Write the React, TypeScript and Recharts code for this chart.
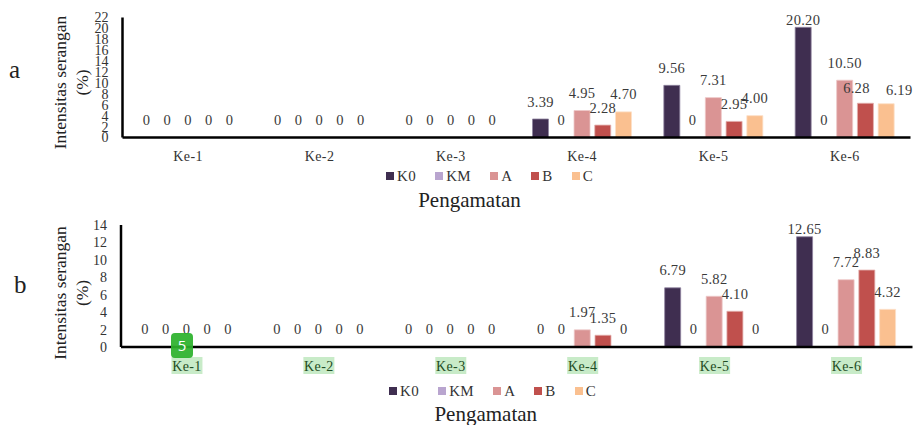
import { BarChart, Bar, XAxis, YAxis, LabelList, Legend } from "recharts";

const categories = ["Ke-1", "Ke-2", "Ke-3", "Ke-4", "Ke-5", "Ke-6"];
const seriesNames = ["K0", "KM", "A", "B", "C"];
const seriesColors = ["#3F2E50", "#B9A5CF", "#DA9494", "#C0504D", "#FAC090"];
const seriesEdges = ["#8F84A0", "#D5C9E2", "#EEC8C8", "#E3B0AE", "#FDE0C8"];

const ticksA = [0, 2, 4, 6, 8, 10, 12, 14, 16, 18, 20, 22];
const k0A = [0, 0, 0, 3.39, 9.56, 20.2];
const kmA = [0, 0, 0, 0, 0, 0];
const aA = [0, 0, 0, 4.95, 7.31, 10.5];
const bA = [0, 0, 0, 2.28, 2.95, 6.28];
const cA = [0, 0, 0, 4.7, 4.0, 6.19];

const ticksB = [0, 2, 4, 6, 8, 10, 12, 14];
const k0B = [0, 0, 0, 0, 6.79, 12.65];
const kmB = [0, 0, 0, 0, 0, 0];
const aB = [0, 0, 0, 1.97, 5.82, 7.72];
const bB = [0, 0, 0, 1.35, 4.1, 8.83];
const cB = [0, 0, 0, 0, 0, 4.32];

// hand-moved labels in the original, [dx, gap above bar]
const nudgesA: Record<string, [number, number]> = {
  "K0-5": [0, 7],
  "B-5": [-9, 15],
  "C-5": [13, 14],
};
const nudgesB: Record<string, [number, number]> = {
  "K0-5": [0, 8],
};

const FONT = "'Liberation Serif', 'Times New Roman', serif";

function buildRows(columns: number[][]) {
  return categories.map((name, i) => {
    const row: Record<string, string | number> = { name };
    seriesNames.forEach((s, j) => {
      row[s] = columns[j][i];
    });
    return row;
  });
}

function LegendRow() {
  return (
    <div style={{ display: "flex", gap: 19, fontFamily: FONT, fontSize: 15, color: "#333", lineHeight: "18px" }}>
      {seriesNames.map((s, i) => (
        <div key={s} style={{ display: "flex", alignItems: "center", gap: 3, letterSpacing: 0.4 }}>
          <span style={{ width: 8, height: 8, background: seriesColors[i], display: "inline-block" }} />
          {s}
        </div>
      ))}
    </div>
  );
}

function Panel(props: {
  columns: number[][];
  ticks: number[];
  top: number;
  left: number;
  right: number;
  plotTop: number;
  baseline: number;
  height: number;
  nudges: Record<string, [number, number]>;
  highlight: boolean;
  legendLeft: number;
  legendTop: number;
  titleDx: number;
  titleOffset: number;
  yTitleShift: number;
}) {
  const { columns, ticks, nudges, highlight, yTitleShift } = props;
  const rows = buildRows(columns);

  const yTitle = (p: any) => {
    const cy = p.viewBox.y + p.viewBox.height / 2 + yTitleShift;
    return (
      <g fontFamily={FONT} fontSize={17.5} fill="#222" textAnchor="middle">
        <text transform={`translate(60,${cy}) rotate(-90)`} dominantBaseline="central">
          Intensitas serangan
        </text>
        <text transform={`translate(82,${cy}) rotate(-90)`} dominantBaseline="central">
          (%)
        </text>
      </g>
    );
  };

  const tick = (p: any) => (
    <g>
      {highlight && <rect x={p.x - 15.5} y={p.y + 2} width={31} height={17} fill="#C8EBC8" />}
      <text
        x={p.x}
        y={p.y + 11}
        textAnchor="middle"
        dominantBaseline="central"
        fontFamily={FONT}
        fontSize={14}
        letterSpacing={0.4}
        fill={highlight ? "#1F4D24" : "#333"}
      >
        {p.payload.value}
      </text>
    </g>
  );

  return (
    <div style={{ position: "absolute", left: 0, top: props.top }}>
      <BarChart
        width={913}
        height={props.height}
        data={rows}
        barSize={16}
        barGap={4.75}
        margin={{ top: props.plotTop, right: props.right, left: 0, bottom: 0 }}
      >
        <XAxis
          dataKey="name"
          interval={0}
          tick={tick}
          tickLine={false}
          axisLine={{ stroke: "#000", strokeWidth: 2.5 }}
          height={props.height - props.baseline}
          label={{
            value: "Pengamatan",
            position: "bottom",
            offset: props.titleOffset,
            dx: props.titleDx,
            fontFamily: FONT,
            fontSize: 21,
            fill: "#222",
          }}
        />
        <YAxis
          width={props.left}
          domain={[0, ticks[ticks.length - 1]]}
          ticks={ticks}
          interval={0}
          tickLine={false}
          tickMargin={8}
          tick={{ fontFamily: FONT, fontSize: 14, fill: "#333" }}
          axisLine={{ stroke: "#000", strokeWidth: 2.5 }}
          label={{ content: yTitle }}
        />
        <Legend
          layout="horizontal"
          align="center"
          verticalAlign="middle"
          content={<LegendRow />}
          wrapperStyle={{ left: props.legendLeft, top: props.legendTop, width: "auto" }}
        />
        {seriesNames.map((s, i) => (
          <Bar
            key={s}
            dataKey={s}
            fill={seriesColors[i]}
            stroke={seriesEdges[i]}
            strokeWidth={0.8}
            minPointSize={0.01}
            isAnimationActive={false}
          >
            <LabelList
              dataKey={s}
              content={(l: any) => {
                const value = Number(l.value);
                const [dx, gap] = nudges[`${s}-${l.index}`] ?? [0, 17.5];
                return (
                  <text
                    x={l.x + l.width / 2 + dx}
                    y={l.y - gap}
                    textAnchor="middle"
                    dominantBaseline="central"
                    fontFamily={FONT}
                    fontSize={14.5}
                    letterSpacing={0.3}
                    fill="#3A3A3A"
                  >
                    {value === 0 ? "0" : value.toFixed(2)}
                  </text>
                );
              }}
            />
          </Bar>
        ))}
      </BarChart>
    </div>
  );
}

export default function App() {
  return (
    <div style={{ position: "absolute", left: 0, top: 0, width: 913, height: 425, background: "#fff", overflow: "hidden" }}>
      <div style={{ position: "absolute", left: 9, top: 56, fontFamily: FONT, fontSize: 25, color: "#222" }}>a</div>
      <div style={{ position: "absolute", left: 14, top: 271, fontFamily: FONT, fontSize: 25, color: "#222" }}>b</div>
      <Panel
        columns={[k0A, kmA, aA, bA, cA]}
        ticks={ticksA}
        top={0}
        left={122.5}
        right={2.5}
        plotTop={17.5}
        baseline={137.5}
        height={212}
        nudges={nudgesA}
        highlight={false}
        legendLeft={386}
        legendTop={167}
        titleDx={-47}
        titleOffset={-20}
        yTitleShift={5}
      />
      <Panel
        columns={[k0B, kmB, aB, bB, cB]}
        ticks={ticksB}
        top={210}
        left={121}
        right={0.5}
        plotTop={15}
        baseline={137}
        height={215}
        nudges={nudgesB}
        highlight
        legendLeft={389}
        legendTop={172}
        titleDx={-31}
        titleOffset={-19}
        yTitleShift={7}
      />
      <div
        style={{
          position: "absolute",
          left: 171,
          top: 333,
          width: 22,
          height: 25,
          borderRadius: 4,
          background: "rgba(44,178,44,0.93)",
          color: "#fff",
          fontFamily: "'Open Sans', sans-serif",
          fontSize: 15,
          lineHeight: "25px",
          textAlign: "center",
        }}
      >
        5
      </div>
    </div>
  );
}
